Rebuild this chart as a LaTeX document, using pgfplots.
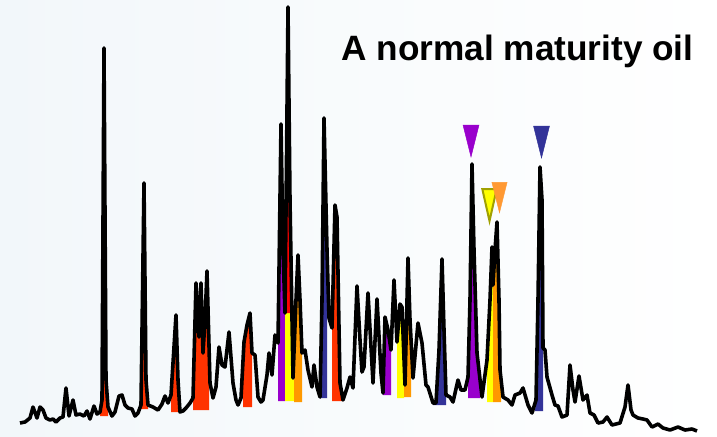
\documentclass[border=0pt]{standalone}
\usepackage{pgfplots}
\pgfplotsset{compat=1.18}
\usepackage{fontspec}
\setmainfont{Liberation Sans}
\definecolor{cred}{RGB}{255,51,0}
\definecolor{pred}{RGB}{255,0,0}
\definecolor{cpurple}{RGB}{153,0,204}
\definecolor{cyellow}{RGB}{255,255,0}
\definecolor{corange}{RGB}{255,153,0}
\definecolor{cblue}{RGB}{51,51,153}
\definecolor{torange}{RGB}{255,153,51}
\definecolor{olive2}{RGB}{160,160,0}
\definecolor{bgtint}{RGB}{242,247,250}
\pgfdeclareplotmark{dtri}{%
 \pgfpathmoveto{\pgfqpoint{-4pt}{8pt}}%
 \pgfpathlineto{\pgfqpoint{4pt}{8pt}}%
 \pgfpathlineto{\pgfqpoint{0pt}{-8pt}}%
 \pgfpathclose
 \pgfusepathqfillstroke}
\begin{document}
\begin{tikzpicture}
\begin{axis}[
  width=358.5pt, height=218pt, scale only axis,
  xmin=0, xmax=717, ymin=0, ymax=436, y dir=reverse,
  axis line style={draw=none}, ticks=none,
  axis background/.style={shade, left color=bgtint, middle color=white, right color=white},
  clip=false]
% coloured peak areas
\addplot[fill=cred, draw=none] coordinates {(100,416)(100,410)(102,400)(104,48)(106,380)(108,407)(108,416)};
\addplot[fill=cred, draw=none] coordinates {(141,409)(141,405)(144,183)(146,380)(148,405)(148,409)};
\addplot[fill=cred, draw=none] coordinates {(171,412)(171,395)(176,315)(178,380)(180,412)};
\addplot[fill=cred, draw=none] coordinates {(193,410)(193,398)(196,283)(199,337)(201,283)(203,353)(205,320)(207,271)(209,345)(209,410)};
\addplot[fill=cred, draw=none] coordinates {(243,407)(243,350)(244,342)(247,325)(250,313)(252,353)(252,407)};
\addplot[fill=cpurple, draw=none] coordinates {(278,401)(278,343)(281,124)(283,250)(285,313)(285,401)};
\addplot[fill=cyellow, draw=none] coordinates {(285,401)(285,313)(288,7)(291,230)(293,378)(294,360)(294,401)};
\addplot[fill=pred, draw=none] coordinates {(286,313)(286,290)(288,7)(291,230)(291,313)};
\addplot[fill=corange, draw=none] coordinates {(294,402)(294,330)(296,300)(298,255)(300,300)(302,353)(302,402)};
\addplot[fill=cblue, draw=none] coordinates {(319,398)(320,397)(322,300)(324,118)(327,250)(327,398)};
\addplot[fill=cred, draw=none] coordinates {(332,401)(332,328)(335,205)(337,217)(340,383)(342,395)(342,401)};
\addplot[fill=cpurple, draw=none] coordinates {(383,395)(383,393)(385,317)(388,330)(391,350)(391,395)};
\addplot[fill=cyellow, draw=none] coordinates {(397,398)(397,342)(400,304)(402,307)(404,360)(404,398)};
\addplot[fill=corange, draw=none] coordinates {(404,397)(404,360)(405,385)(408,258)(410,320)(411,340)(411,397)};
\addplot[fill=cblue, draw=none] coordinates {(433,405)(433,403)(436,403)(439,350)(442,259)(444,330)(446,395)(446,405)};
\addplot[fill=cpurple, draw=none] coordinates {(468,398)(468,377)(470,300)(472,164)(474,250)(477,353)(480,380)(480,398)};
\addplot[fill=cyellow, draw=none] coordinates {(487,402)(487,360)(490,300)(492,247)(493,285)(493,402)};
\addplot[fill=corange, draw=none] coordinates {(493,402)(493,285)(495,250)(497,222)(499,300)(500,370)(501,380)(501,402)};
\addplot[fill=cblue, draw=none] coordinates {(535,411)(536,400)(538,300)(540,167)(542,200)(543,348)(543,411)};
% chromatogram trace
\addplot[black, line width=1.8pt, line join=round] coordinates {
(20,423)(25,422)(30,418)(33,407)(37,418)(40,407)(43,410)(46,418)(50,420)(53,419)(56,422)(60,418)(63,417)(66,388)(69,416)(73,400)(76,415)(80,414)(84,416)(87,411)(90,419)(94,406)(97,414)(100,412)(102,400)(104,48)(106,380)(108,407)(112,416)(115,412)(119,396)(122,395)(125,405)(128,408)(132,409)(135,416)(138,413)(141,405)(144,183)(146,380)(148,405)(153,407)(158,410)(162,404)(165,396)(168,403)(171,395)(176,315)(178,380)(180,412)(183,411)(186,408)(190,403)(193,398)(196,283)(199,337)(201,283)(203,353)(205,320)(207,271)(210,383)(213,398)(216,387)(219,347)(222,365)(225,367)(229,332)(233,383)(236,400)(238,405)(241,398)(244,342)(247,325)(250,313)(252,353)(255,355)(258,397)(261,402)(263,400)(267,375)(269,353)(272,375)(275,335)(278,343)(281,124)(283,250)(285,313)(288,7)(290,200)(293,378)(296,300)(298,255)(300,300)(302,353)(305,350)(308,370)(312,387)(314,365)(317,387)(320,397)(322,300)(324,118)(327,250)(329,318)(332,328)(335,205)(337,217)(340,383)(343,400)(347,388)(350,377)(353,388)(357,286)(360,340)(362,372)(364,367)(368,293)(373,383)(377,299)(381,373)(383,393)(385,317)(388,330)(391,350)(394,280)(397,342)(400,304)(402,307)(405,385)(408,258)(410,320)(413,378)(418,323)(422,343)(426,385)(428,387)(433,403)(436,403)(439,350)(442,259)(444,330)(446,395)(450,397)(453,402)(458,380)(461,390)(465,390)(468,377)(470,300)(472,164)(474,250)(477,353)(482,397)(487,360)(490,300)(492,247)(493,285)(495,250)(497,222)(499,300)(500,370)(503,397)(508,400)(512,405)(515,395)(520,393)(523,388)(528,405)(532,413)(536,400)(538,300)(540,167)(542,200)(543,348)(545,350)(547,377)(552,395)(555,405)(558,406)(562,417)(567,415)(570,365)(573,390)(575,402)(579,376)(583,400)(587,395)(590,413)(594,415)(598,423)(603,422)(607,417)(612,425)(620,423)(625,407)(628,385)(631,410)(633,415)(638,418)(643,419)(647,420)(652,427)(658,424)(663,428)(670,430)(678,427)(685,430)(692,429)(697,431)};
% markers
\addplot[only marks, mark=dtri, mark options={fill=cpurple, draw=cpurple, line width=0.2pt}] coordinates {(471,141)};
\addplot[only marks, mark=dtri, mark options={fill=cblue, draw=cblue, line width=0.2pt}] coordinates {(541.5,142)};
\addplot[only marks, mark=dtri, mark options={fill=cyellow, draw=olive2, line width=1pt, xscale=0.9}] coordinates {(489.5,205)};
\addplot[only marks, mark=dtri, mark options={fill=torange, draw=torange, line width=0.2pt, xscale=0.95, yscale=0.95}] coordinates {(499.5,197.5)};
\node[anchor=base west, font=\bfseries\fontsize{17.6}{20}\selectfont, inner sep=0pt] at (axis cs:341,60) {A normal maturity oil};
\end{axis}
\end{tikzpicture}
\end{document}
